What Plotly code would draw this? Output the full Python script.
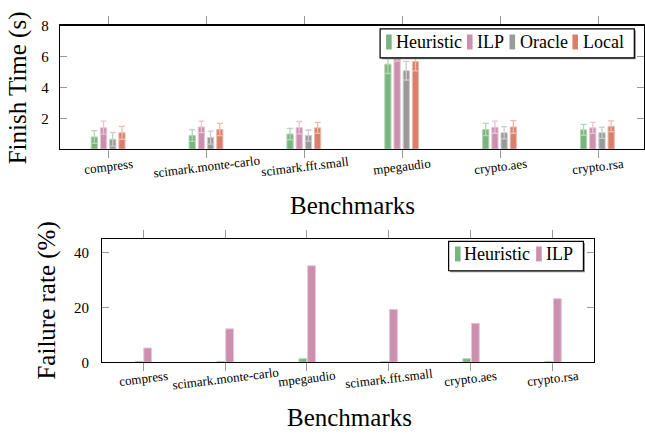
import plotly.graph_objects as go

W, H = 645, 438

# ---------------- data ----------------
benchmarks_time = ["compress", "scimark.monte-carlo", "scimark.fft.small",
                   "mpegaudio", "crypto.aes", "crypto.rsa"]
heuristic_time = [0.79, 0.88, 0.98, 5.50, 1.27, 1.25]
heuristic_err = [0.41, 0.38, 0.37, 0.60, 0.40, 0.35]
ilp_time = [1.39, 1.44, 1.39, 6.30, 1.42, 1.38]
ilp_err = [0.42, 0.37, 0.40, 0.60, 0.39, 0.36]
oracle_time = [0.64, 0.75, 0.88, 5.08, 1.06, 1.06]
oracle_err = [0.44, 0.42, 0.36, 0.60, 0.40, 0.36]
local_time = [1.06, 1.27, 1.38, 5.67, 1.44, 1.48]
local_err = [0.42, 0.40, 0.36, 0.60, 0.41, 0.35]

benchmarks_fail = ["compress", "scimark.monte-carlo", "mpegaudio",
                   "scimark.fft.small", "crypto.aes", "crypto.rsa"]
heuristic_fail = [0.3, 0.3, 1.3, 0.3, 1.3, 0.3]
ilp_fail = [5.2, 12.2, 35.2, 19.3, 14.2, 23.2]

time_ticks = [2, 4, 6, 8]
fail_ticks = [0, 20, 40]

# ---------------- styles ----------------
FONT = "Liberation Serif"
COL = {
    "Heuristic": ("#7ab47f", "#b3d6b5"),
    "ILP": ("#cc8fae", "#e8c6d7"),
    "Oracle": ("#999999", "#cccccc"),
    "Local": ("#d8806c", "#eebcaf"),
}


def px_x(p):
    return p / W


def px_y(p):
    return 1 - p / H


fig = go.Figure()

top_series = [
    ("Heuristic", heuristic_time, heuristic_err, -0.180),
    ("ILP", ilp_time, ilp_err, -0.086),
    ("Oracle", oracle_time, oracle_err, 0.008),
    ("Local", local_time, local_err, 0.102),
]
for name, vals, errs, off in top_series:
    fill, light = COL[name]
    fig.add_trace(go.Bar(
        x=benchmarks_time, y=vals, name=name, xaxis="x", yaxis="y",
        offset=off, width=0.064,
        marker=dict(color=fill, line=dict(color=light, width=1)),
        error_y=dict(type="data", array=errs, color=light, thickness=1.3, width=3),
        showlegend=False,
    ))

bot_series = [
    ("Heuristic", heuristic_fail, -0.098),
    ("ILP", ilp_fail, 0.008),
]
for name, vals, off in bot_series:
    fill, light = COL[name]
    fig.add_trace(go.Bar(
        x=benchmarks_fail, y=vals, name=name, xaxis="x2", yaxis="y2",
        offset=off, width=0.095,
        marker=dict(color=fill, line=dict(color=light, width=1)),
        showlegend=False,
    ))

axis_common = dict(showline=True, linecolor="black", linewidth=1.2,
                   showgrid=False, zeroline=False, mirror="ticks",
                   tickcolor="#999999", tickwidth=1)

# top plot pixel geometry
t_left, t_right, t_top, t_bot = 60, 645, 18.3, 146.5
cat_w_top = 98.0
# bottom plot pixel geometry
b_left, b_right, b_top, b_bot = 102.3, 594.7, 239.7, 367.7

fig.update_layout(
    width=W, height=H,
    margin=dict(l=0, r=0, t=0, b=0),
    paper_bgcolor="white", plot_bgcolor="white",
    barmode="overlay",
    font=dict(family=FONT, color="black"),
    xaxis=dict(axis_common, domain=[px_x(t_left), px_x(t_right)], anchor="y",
               type="category",
               range=[-0.5, -0.5 + (t_right - t_left) / cat_w_top],
               ticks="outside", ticklen=8, showticklabels=False),
    yaxis=dict(axis_common, domain=[px_y(t_bot), px_y(t_top)], anchor="x",
               range=[0, 8], tickvals=time_ticks, ticks="inside", ticklen=7,
               tickfont=dict(family=FONT, size=15, color="black"),
               ticklabelstandoff=7),
    xaxis2=dict(axis_common, domain=[px_x(b_left), px_x(b_right)], anchor="y2",
                type="category", range=[-0.5, 5.5],
                ticks="outside", ticklen=8, showticklabels=False),
    yaxis2=dict(axis_common, domain=[px_y(b_bot), px_y(b_top)], anchor="x2",
                range=[0, 45], tickvals=fail_ticks, ticks="inside", ticklen=7,
                tickfont=dict(family=FONT, size=15, color="black"),
                ticklabelstandoff=9),
)

ann = []
# rotated category labels
for c in benchmarks_time:
    ann.append(dict(x=c, xref="x", y=px_y(164.5), yref="paper", text=c,
                    showarrow=False, textangle=-7, xanchor="center", yanchor="middle",
                    font=dict(family=FONT, size=13, color="black")))
for c in benchmarks_fail:
    ann.append(dict(x=c, xref="x2", y=px_y(385), yref="paper", text=c,
                    showarrow=False, textangle=-7, xanchor="center", yanchor="middle",
                    font=dict(family=FONT, size=13, color="black")))

# axis titles
title_font = dict(family=FONT, size=25, color="black")
ann.append(dict(x=px_x(353), y=px_y(205), xref="paper", yref="paper",
                text="Benchmarks", showarrow=False, font=title_font,
                xanchor="center", yanchor="middle"))
ann.append(dict(x=px_x(350), y=px_y(425), xref="paper", yref="paper",
                text="Benchmarks", showarrow=False, font=title_font,
                xanchor="center", yanchor="middle"))
ann.append(dict(x=px_x(18), y=px_y((t_top + t_bot) / 2), xref="paper", yref="paper",
                text="Finish Time (s)", showarrow=False, font=title_font, textangle=-90,
                xanchor="center", yanchor="middle"))
ann.append(dict(x=px_x(47), y=px_y((b_top + b_bot) / 2), xref="paper", yref="paper",
                text="Failure rate (%)", showarrow=False, font=title_font, textangle=-90,
                xanchor="center", yanchor="middle"))

shapes = []


def legend_box(x0, x1, y0, y1, items, text_y):
    # shadow + box
    shapes.append(dict(type="rect", xref="paper", yref="paper", layer="above",
                       x0=px_x(x0 + 1.5), x1=px_x(x1 + 1.5), y0=px_y(y1 + 1.5), y1=px_y(y0 + 1.5),
                       fillcolor="#888888", line=dict(width=0)))
    shapes.append(dict(type="rect", xref="paper", yref="paper", layer="above",
                       x0=px_x(x0), x1=px_x(x1), y0=px_y(y1), y1=px_y(y0),
                       fillcolor="white", line=dict(color="black", width=1.2)))
    for name, px0, tx in items:
        shapes.append(dict(type="rect", xref="paper", yref="paper", layer="above",
                           x0=px_x(px0), x1=px_x(px0 + 5.6),
                           y0=px_y(text_y + 7.5), y1=px_y(text_y - 8),
                           fillcolor=COL[name][0], line=dict(width=0)))
        ann.append(dict(x=px_x(tx), y=px_y(text_y), xref="paper", yref="paper",
                        text=name, showarrow=False, xanchor="left", yanchor="middle",
                        font=dict(family=FONT, size=18, color="black")))


legend_box(380.7, 635.3, 21.7, 51.7,
           [("Heuristic", 386.7, 394.5), ("ILP", 467.7, 476.0),
            ("Oracle", 510.3, 518.5), ("Local", 573.3, 582.0)], 35.5)
legend_box(449.3, 584.3, 242.3, 272.7,
           [("Heuristic", 455.7, 463.0), ("ILP", 537.0, 545.0)], 255.5)

fig.update_layout(annotations=ann, shapes=shapes)

# remove the default page margin so the figure sits at the window origin
fig.write_html("out.html",
               config={"displayModeBar": False, "staticPlot": True},
               post_script="document.body.style.margin='0';document.body.style.overflow='hidden';")
